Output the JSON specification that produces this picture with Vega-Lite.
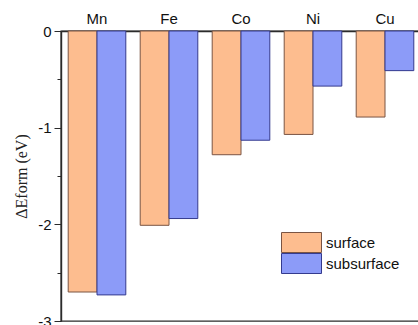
{
  "$schema": "https://vega.github.io/schema/vega-lite/v6.json",
  "width": 360,
  "height": 290,
  "autosize": "none",
  "padding": {"left": 61, "top": 31, "right": 0, "bottom": 4},
  "background": "white",
  "config": {
    "view": {"stroke": "#2b2b2b", "strokeWidth": 1.4},
    "font": "Liberation Sans"
  },
  "data": {
    "values": [
      {"metal": "Mn", "site": "surface", "value": -2.70},
      {"metal": "Mn", "site": "subsurface", "value": -2.73},
      {"metal": "Fe", "site": "surface", "value": -2.01},
      {"metal": "Fe", "site": "subsurface", "value": -1.94},
      {"metal": "Co", "site": "surface", "value": -1.28},
      {"metal": "Co", "site": "subsurface", "value": -1.13},
      {"metal": "Ni", "site": "surface", "value": -1.07},
      {"metal": "Ni", "site": "subsurface", "value": -0.57},
      {"metal": "Cu", "site": "surface", "value": -0.89},
      {"metal": "Cu", "site": "subsurface", "value": -0.41}
    ]
  },
  "mark": {"type": "bar", "strokeWidth": 1},
  "encoding": {
    "x": {
      "field": "metal",
      "type": "nominal",
      "sort": ["Mn", "Fe", "Co", "Ni", "Cu"],
      "scale": {"paddingInner": 0.2, "paddingOuter": 0.1},
      "axis": {
        "orient": "top",
        "title": null,
        "ticks": false,
        "domain": true,
        "domainColor": "#2b2b2b",
        "domainWidth": 1.4,
        "labelAngle": 0,
        "labelFontSize": 15,
        "labelColor": "#111",
        "labelPadding": 5
      }
    },
    "xOffset": {
      "field": "site",
      "type": "nominal",
      "sort": ["surface", "subsurface"],
      "scale": {"paddingInner": 0, "paddingOuter": 0}
    },
    "y": {
      "field": "value",
      "type": "quantitative",
      "scale": {"domain": [-3, 0], "nice": false, "zero": false},
      "axis": {
        "title": "ΔEform (eV)",
        "titleFont": "Liberation Serif",
        "titleFontSize": 16,
        "titleFontWeight": "normal",
        "titleColor": "#222",
        "titlePadding": 8,
        "values": [-3, -2.5, -2, -1.5, -1, -0.5, 0],
        "labelExpr": "datum.value % 1 === 0 ? toString(datum.value) : ''",
        "labelFontSize": 15,
        "labelColor": "#111",
        "labelPadding": 3,
        "grid": false,
        "domainColor": "#2b2b2b",
        "domainWidth": 1.4,
        "tickColor": "#2b2b2b",
        "tickSize": {"condition": {"test": "datum.value % 1 !== 0", "value": 4}, "value": 7}
      }
    },
    "fill": {
      "field": "site",
      "type": "nominal",
      "scale": {"domain": ["surface", "subsurface"], "range": ["#FDBD8F", "#8C9BF8"]},
      "legend": {
        "title": null,
        "orient": "none",
        "legendX": 220,
        "legendY": 201,
        "symbolType": "M-1,-1H3V1H-1Z",
        "symbolSize": 400,
        "symbolStrokeWidth": 1,
        "labelFontSize": 15,
        "labelColor": "#111",
        "clipHeight": 21,
        "rowPadding": 0,
        "labelOffset": 24
      }
    },
    "stroke": {
      "field": "site",
      "type": "nominal",
      "scale": {"domain": ["surface", "subsurface"], "range": ["#7A5443", "#343A8E"]},
      "legend": {
        "title": null,
        "orient": "none",
        "legendX": 220,
        "legendY": 201,
        "symbolType": "M-1,-1H3V1H-1Z",
        "symbolSize": 400,
        "symbolStrokeWidth": 1,
        "labelFontSize": 15,
        "labelColor": "#111",
        "clipHeight": 21,
        "rowPadding": 0,
        "labelOffset": 24
      }
    }
  }
}
